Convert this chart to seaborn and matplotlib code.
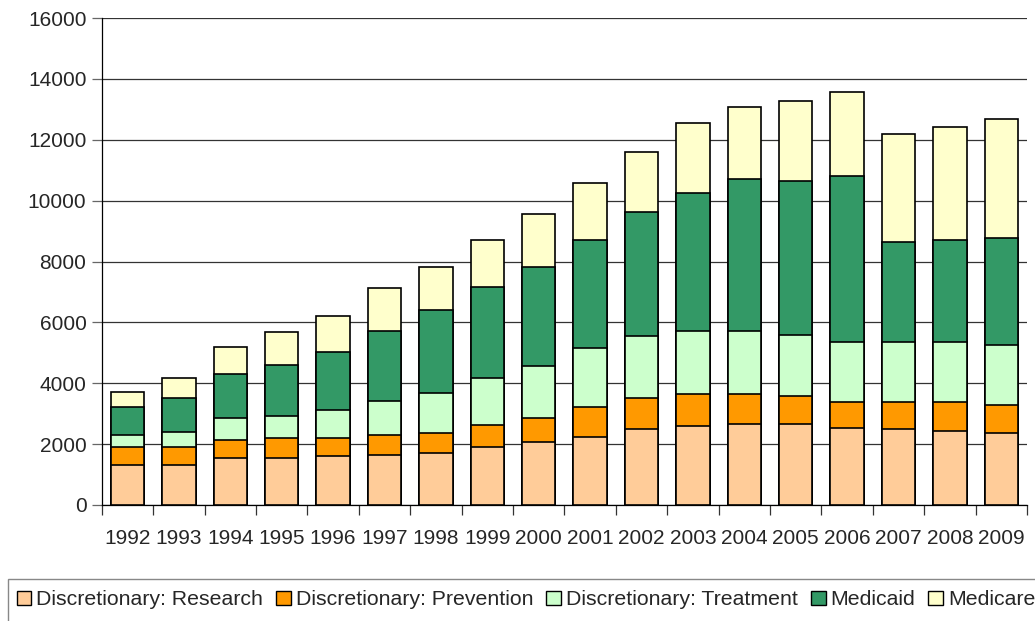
import pandas as pd
import matplotlib
matplotlib.use('Agg')
import matplotlib.pyplot as plt
import seaborn as sns
from matplotlib.patches import Patch, Rectangle

# spending by year
years = ['1992', '1993', '1994', '1995', '1996', '1997', '1998', '1999', '2000',
         '2001', '2002', '2003', '2004', '2005', '2006', '2007', '2008', '2009']
research = [1300, 1300, 1540, 1540, 1600, 1650, 1700, 1900, 2085,
            2250, 2500, 2610, 2665, 2665, 2545, 2500, 2445, 2380]
prevention = [600, 600, 605, 670, 610, 660, 680, 725, 780,
              975, 1020, 1030, 975, 910, 845, 890, 945, 890]
treatment = [410, 485, 725, 715, 900, 1100, 1315, 1560, 1690,
             1920, 2020, 2085, 2085, 2020, 1975, 1975, 1975, 1975]
medicaid = [900, 1120, 1420, 1670, 1905, 2320, 2700, 2985, 3270,
            3555, 4080, 4530, 4970, 5035, 5440, 3290, 3345, 3530]
medicare = [495, 680, 915, 1090, 1210, 1400, 1415, 1545, 1735,
            1865, 1975, 2295, 2380, 2630, 2770, 3545, 3720, 3895]

labels = ['Discretionary: Research', 'Discretionary: Prevention',
          'Discretionary: Treatment', 'Medicaid', 'Medicare']
colors = ['#FFCC99', '#FF9900', '#CCFFCC', '#339966', '#FFFFCC']

df = pd.DataFrame({'Year': years, labels[0]: research, labels[1]: prevention,
                   labels[2]: treatment, labels[3]: medicaid, labels[4]: medicare})
cum = df[labels].cumsum(axis=1)
cum['Year'] = df['Year']

sns.set_style('ticks')
plt.rcParams['font.family'] = ['Liberation Sans', 'DejaVu Sans']

fig = plt.figure(figsize=(10.35, 6.21), dpi=100)
ax = fig.add_axes([0.0983, 0.1868, 0.894, 0.7842])

# stack by drawing cumulative totals, tallest first
for lab, col in reversed(list(zip(labels, colors))):
    sns.barplot(x='Year', y=lab, data=cum, color=col, saturation=1,
                edgecolor='black', linewidth=1.2, width=0.65, ax=ax, zorder=3)

ax.set_ylim(0, 16000)
ax.set_xlim(-0.5, len(years) - 0.5)
ax.set_yticks(range(0, 16001, 2000))
ax.set_xlabel('')
ax.set_ylabel('')
ax.yaxis.grid(True, color='#333333', linewidth=0.9, zorder=0)
ax.set_axisbelow(True)
for s in ['top', 'right']:
    ax.spines[s].set_visible(False)
for s in ['left', 'bottom']:
    ax.spines[s].set_color('black')
    ax.spines[s].set_linewidth(0.9)

ax.tick_params(axis='x', which='major', length=0, labelsize=15, pad=17)
ax.set_xticks([i + 0.5 for i in range(-1, len(years))], minor=True)
ax.tick_params(axis='x', which='minor', length=7, color='#333333', width=0.9)
ax.tick_params(axis='y', length=7, color='#666666', width=0.9, labelsize=15, pad=4)

handles = [Patch(facecolor=c, edgecolor='black', linewidth=1.0) for c in colors]
fig.legend(handles, labels, loc='center left', bbox_to_anchor=(0.016, 0.034),
           ncol=5, frameon=False, fontsize=15.3, handlelength=0.7, handleheight=0.7,
           handletextpad=0.22, columnspacing=0.62, borderaxespad=0, borderpad=0)
fig.patches.append(Rectangle((0.0077, -0.05), 1.05, 0.1176, transform=fig.transFigure,
                             facecolor='none', edgecolor='#888888', linewidth=1.0,
                             clip_on=False))

fig.savefig('out.png', dpi=100)
